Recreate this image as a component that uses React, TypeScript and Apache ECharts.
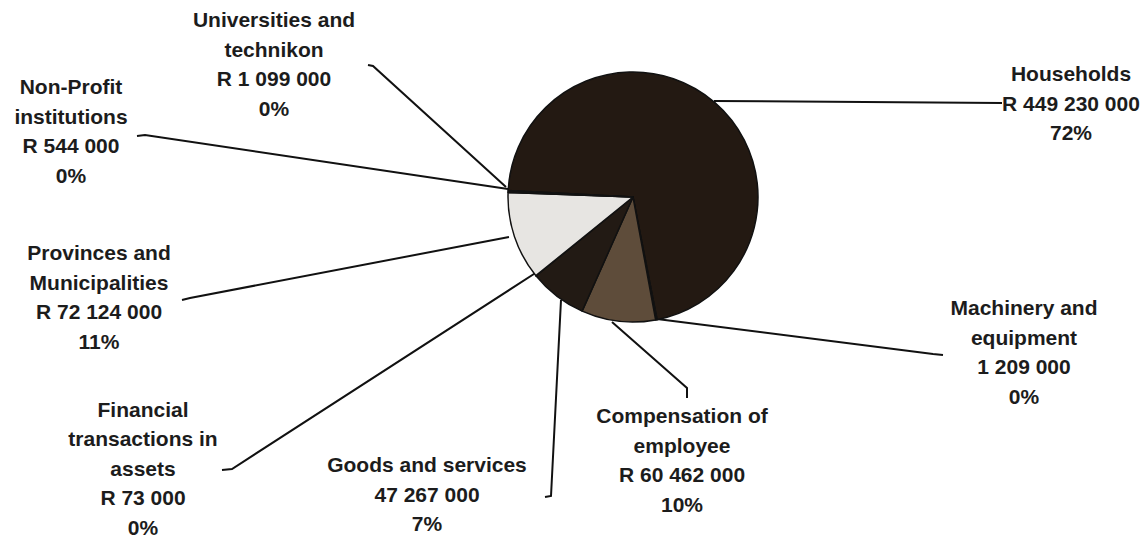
import { useEffect, useRef } from "react";
import * as echarts from "echarts";

// ---- data ----
const categories = [
  "Households",
  "Machinery and equipment",
  "Compensation of employee",
  "Goods and services",
  "Financial transactions in assets",
  "Provinces and Municipalities",
  "Non-Profit institutions",
  "Universities and technikon",
];
const labelNames = [
  "Households",
  "Machinery and\nequipment",
  "Compensation of\nemployee",
  "Goods and services",
  "Financial\ntransactions in\nassets",
  "Provinces and\nMunicipalities",
  "Non-Profit\ninstitutions",
  "Universities and\ntechnikon",
];
const amounts = [449230000, 1209000, 60462000, 47267000, 73000, 72124000, 544000, 1099000];
const randPrefix = [true, false, true, false, true, true, true, true];
const percentLabels = ["72%", "0%", "10%", "7%", "0%", "11%", "0%", "0%"];

// ---- styles / layout ----
const sliceColors = ["#231912", "#7a6a5a", "#5e4c3a", "#221a14", "#333333", "#e7e5e2", "#999999", "#bbbbbb"];
const labelCenters: number[][] = [
  [1071, 103],
  [1024, 352],
  [682, 460],
  [427, 494],
  [143, 468],
  [99, 297],
  [71, 131],
  [274, 64],
];
const leaderLines: number[][][] = [
  [[714, 101], [1002, 103]],
  [[657, 319], [933, 354], [943, 355]],
  [[612, 322], [687, 388], [687, 398]],
  [[561, 300], [551, 496], [545, 497]],
  [[537, 272], [232, 469], [222, 470]],
  [[509, 237], [190, 298], [182, 300]],
  [[508, 189], [145, 135], [137, 136]],
  [[506, 187], [373, 66], [368, 65]],
];

const fmt = (n: number) => String(n).replace(/\B(?=(\d{3})+(?!\d))/g, " ");

export default function App() {
  const ref = useRef<HTMLDivElement>(null);
  useEffect(() => {
    if (!ref.current) return;
    const chart = echarts.init(ref.current, undefined, { renderer: "svg" });
    chart.setOption({
      animation: false,
      backgroundColor: "#ffffff",
      series: [
        {
          type: "pie",
          center: [633, 197],
          radius: 125,
          startAngle: 177,
          clockwise: true,
          minAngle: 0,
          avoidLabelOverlap: false,
          silent: true,
          emphasis: { disabled: true },
          itemStyle: { borderColor: "#111111", borderWidth: 1.5 },
          label: {
            show: true,
            position: "outside",
            width: 240,
            overflow: "none",
            align: "center",
            color: "#1c1c1c",
            fontFamily: "'Liberation Sans', Arial, sans-serif",
            fontWeight: "bold",
            fontSize: 21,
            lineHeight: 29.5,
            formatter: (p: any) => {
              const i = p.dataIndex;
              return `${labelNames[i]}\n${randPrefix[i] ? "R " : ""}${fmt(amounts[i])}\n${percentLabels[i]}`;
            },
          },
          labelLine: { show: true, lineStyle: { color: "#111111", width: 2 } },
          labelLayout: (p: any) => ({
            x: labelCenters[p.dataIndex][0],
            y: labelCenters[p.dataIndex][1],
            align: "center",
            verticalAlign: "middle",
            labelLinePoints: leaderLines[p.dataIndex],
          }),
          data: categories.map((name, i) => ({
            name,
            value: amounts[i],
            itemStyle: { color: sliceColors[i] },
          })),
        },
      ],
    });
    return () => chart.dispose();
  }, []);
  return (
    <div
      ref={ref}
      style={{ position: "fixed", left: 0, top: 0, width: 1146, height: 540 }}
    />
  );
}
